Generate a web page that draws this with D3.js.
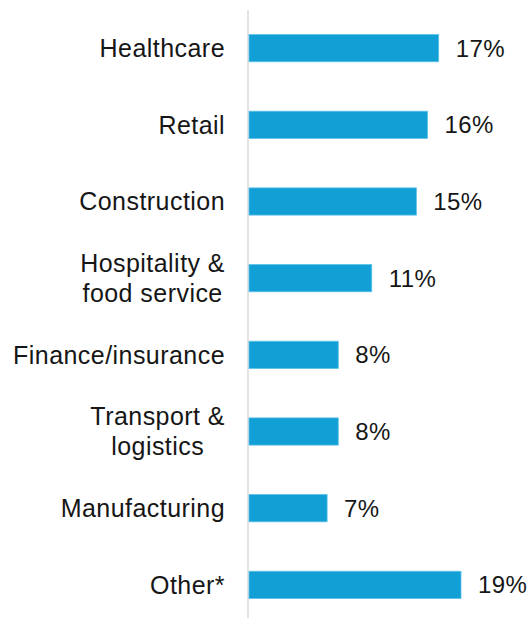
<!DOCTYPE html>
<html>
<head>
<meta charset="utf-8">
<script src="https://cdn.jsdelivr.net/npm/d3@7"></script>
<style>
  html, body { margin: 0; padding: 0; background: #fff; }
  svg text { font-family: "Liberation Sans", Arial, sans-serif; fill: #161616; }
</style>
</head>
<body>
<svg id="chart" width="529" height="618"></svg>
<script>
// Industry shares (percent)
const categories = [
  ["Healthcare"],
  ["Retail"],
  ["Construction"],
  ["Hospitality &", "food service"],
  ["Finance/insurance"],
  ["Transport &", "logistics"],
  ["Manufacturing"],
  ["Other*"]
];
const values = [17, 16, 15, 11, 8, 8, 7, 19];
const valueLabels = ["17%", "16%", "15%", "11%", "8%", "8%", "7%", "19%"];

const svg = d3.select("#chart");
const x0 = 249, y0 = 10, y1 = 623;
const labelRight = 225;

const x = d3.scaleLinear().domain([0, 19]).range([x0, 461]);
const y = d3.scaleBand()
  .domain(d3.range(values.length))
  .range([y0, y1])
  .paddingInner(0.645)
  .paddingOuter(0.32);

// vertical baseline
svg.append("line")
  .attr("x1", x0 - 1).attr("x2", x0 - 1)
  .attr("y1", y0).attr("y2", 618)
  .attr("stroke", "#e3e3e3").attr("stroke-width", 2);

const rows = svg.selectAll("g.row").data(values).enter().append("g").attr("class", "row");

rows.append("rect")
  .attr("x", x(0))
  .attr("y", (d, i) => y(i))
  .attr("width", d => x(d) - x(0))
  .attr("height", y.bandwidth())
  .attr("fill", "#119fd6")
  .attr("stroke", "#5cc0e8")
  .attr("stroke-width", 0.8);

rows.append("text")
  .attr("x", d => x(d) + 17)
  .attr("y", (d, i) => y(i) + y.bandwidth() / 2)
  .attr("dy", "0.35em")
  .attr("font-size", 24)
  .attr("letter-spacing", 0.4)
  .text((d, i) => valueLabels[i]);

// category labels: block right-aligned to the axis, lines centred within the block
rows.append("text")
  .attr("font-size", 25)
  .attr("letter-spacing", 0.45)
  .attr("text-anchor", "middle")
  .each(function (d, i) {
    const lines = categories[i];
    const cy = y(i) + y.bandwidth() / 2;
    const lh = 30;
    const g = d3.select(this);
    const spans = lines.map((t, k) => g.append("tspan")
      .attr("y", cy + (k - (lines.length - 1) / 2) * lh)
      .attr("dy", "0.35em")
      .text(t));
    const w = d3.max(spans, s => s.node().getComputedTextLength());
    spans.forEach(s => s.attr("x", labelRight - w / 2));
  });
</script>
</body>
</html>
